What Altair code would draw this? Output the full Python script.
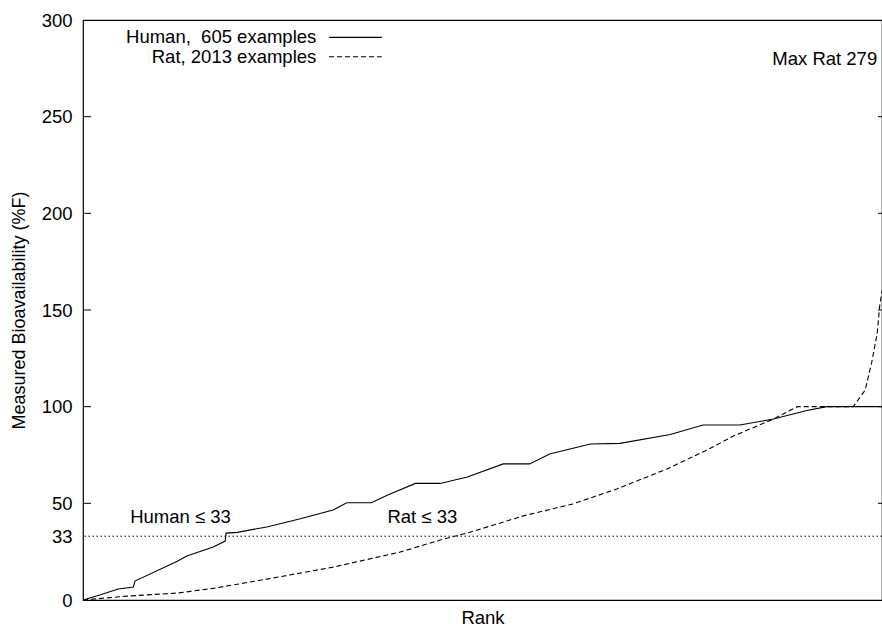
import altair as alt
import pandas as pd

# Normalised rank (percent of examples) and measured %F
human_rank = [0, 2.1, 4.4, 6.3, 6.5, 11.8, 13.0, 16.3, 17.8, 17.9, 19.3, 23.0, 27.2, 31.3, 33.0, 36.1,
              38.0, 41.6, 44.7, 48.1, 52.6, 55.9, 58.4, 63.5, 67.2, 73.5, 77.6, 82.2, 86.4, 90.6, 93.1, 100]
human_val = [0, 2.6, 5.7, 6.7, 9.8, 20, 22.8, 27.4, 30.5, 34.6, 35, 37.8, 42, 46.5, 50.3, 50.3,
             54, 60.3, 60.3, 63.6, 70.4, 70.4, 75.5, 80.7, 81, 85.6, 90.5, 90.5, 93.6, 98, 100, 100]

rat_rank = [0, 5.5, 11.8, 16.3, 23.0, 31.3, 39.7, 44.7, 48.4, 55.1, 61.3, 66.8, 73.1, 78.1, 81.4,
            86.4, 89.4, 96.4, 97.9, 98.7, 99.4, 99.7, 100]
rat_val = [0, 2, 3.6, 6, 10.8, 17, 24.8, 31, 35, 43.5, 49.7, 57.4, 67.8, 77.6, 84.8,
           93.6, 100, 100, 108.6, 122.6, 138, 151.6, 160]

y_ticks = [0, 33, 50, 100, 150, 200, 250, 300]
right_ticks = [50, 100, 150, 200, 250]
threshold = 33

FONT = "Liberation Sans"
FS = 18.5
W, H = 799, 580

human_df = pd.DataFrame({"rank": human_rank, "val": human_val})
rat_df = pd.DataFrame({"rank": rat_rank, "val": rat_val})

xs = alt.Scale(domain=[0, 100], nice=False, zero=False)
ys = alt.Scale(domain=[0, 300], nice=False)

x_axis = alt.Axis(labels=False, ticks=False, domain=False, grid=False, title="Rank",
                  titleFont=FONT, titleFontSize=FS, titleFontWeight="normal", titleColor="black",
                  titlePadding=8)
y_axis = alt.Axis(values=y_ticks, ticks=False, domain=False, grid=False, labelFont=FONT,
                  labelFontSize=FS, labelColor="black", labelPadding=11,
                  title="Measured Bioavailability (%F)", titleFont=FONT, titleFontSize=18,
                  titleFontWeight="normal", titleColor="black", titlePadding=13)

human = alt.Chart(human_df).mark_line(color="black", strokeWidth=1.1, clip=True).encode(
    x=alt.X("rank:Q", scale=xs, axis=x_axis),
    y=alt.Y("val:Q", scale=ys, axis=y_axis),
)
rat = alt.Chart(rat_df).mark_line(color="black", strokeWidth=1.1, strokeDash=[5, 3], clip=True).encode(
    x=alt.X("rank:Q", scale=xs),
    y=alt.Y("val:Q", scale=ys),
)

thr = alt.Chart(pd.DataFrame({"y": [threshold]})).mark_rule(color="black", strokeWidth=1, strokeDash=[1.5, 2.5]).encode(
    y=alt.Y("y:Q", scale=ys)
)

# inward ticks
lt = alt.Chart(pd.DataFrame({"y": right_ticks})).mark_rule(color="black", strokeWidth=1).encode(
    y=alt.Y("y:Q", scale=ys), x=alt.value(0), x2=alt.value(8))
rt = alt.Chart(pd.DataFrame({"y": right_ticks})).mark_rule(color="black", strokeWidth=1).encode(
    y=alt.Y("y:Q", scale=ys), x=alt.value(W - 4), x2=alt.value(W))

# annotations
ann_df = pd.DataFrame({
    "rank": [5.9, 38.1],
    "val": [43, 43],
    "label": ["Human \u2264 33", "Rat \u2264 33"],
})
ann = alt.Chart(ann_df).mark_text(font=FONT, fontSize=FS, align="left", baseline="middle", color="black").encode(
    x=alt.X("rank:Q", scale=xs), y=alt.Y("val:Q", scale=ys), text="label:N")

max_df = pd.DataFrame({"rank": [99.4], "val": [280], "label": ["Max Rat 279"]})
maxt = alt.Chart(max_df).mark_text(font=FONT, fontSize=FS, align="right", baseline="middle", color="black").encode(
    x=alt.X("rank:Q", scale=xs), y=alt.Y("val:Q", scale=ys), text="label:N")

# legend
leg_df = pd.DataFrame({
    "rank": [29.2, 29.2],
    "val": [291, 281],
    "label": ["Human,\u00a0 605 examples", "Rat, 2013 examples"],
})
leg_text = alt.Chart(leg_df).mark_text(font=FONT, fontSize=FS, align="right", baseline="middle", color="black").encode(
    x=alt.X("rank:Q", scale=xs), y=alt.Y("val:Q", scale=ys), text="label:N")
leg_h = alt.Chart(pd.DataFrame({"x1": [30.8], "x2": [37.4], "y": [291]})).mark_rule(color="black", strokeWidth=1.1).encode(
    x=alt.X("x1:Q", scale=xs), x2="x2:Q", y=alt.Y("y:Q", scale=ys))
leg_r = alt.Chart(pd.DataFrame({"x1": [30.8], "x2": [37.4], "y": [281]})).mark_rule(color="black", strokeWidth=1.1, strokeDash=[5, 3]).encode(
    x=alt.X("x1:Q", scale=xs), x2="x2:Q", y=alt.Y("y:Q", scale=ys))

chart = alt.layer(thr, human, rat, lt, rt, ann, maxt, leg_text, leg_h, leg_r).properties(
    width=W, height=H,
    autosize=alt.AutoSizeParams(type="none"),
    padding={"left": 83, "top": 20, "right": 0, "bottom": 26},
    background="white",
).configure_view(stroke="black", strokeWidth=1.2)

chart.save("out.html", embed_options={"renderer": "svg", "actions": False})
